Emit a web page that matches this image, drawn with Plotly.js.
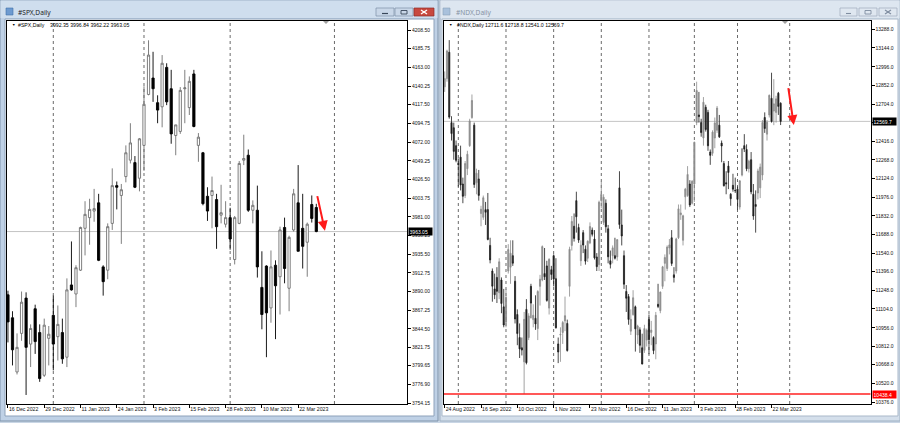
<!DOCTYPE html>
<html><head><meta charset="utf-8">
<script src="https://cdn.plot.ly/plotly-3.0.1.min.js"></script>
<style>html,body{margin:0;padding:0;background:#c6d5e6;}#chart{width:900px;height:423px;}</style>
</head><body><div id="chart"></div>
<script>
// ---------------- DATA ----------------
// #SPX daily, 16 Dec 2022 .. 28 Mar 2023
const spxOpen  = [3886,3858,3792,3839,3882,3826,3869,3840,3788,3833, 3861,3835,3840,3810,3898,3887,3916,3967,3980,3988,
                  3998,3920,3916,3973,4019,4007,4030,4050,4047,4028, 4068,4130,4150,4120,4115,4163,4137,4080,4085,4137,
                  4114,4155,4068,4059,4006,4007,4002,3983,3972,3980, 3929,3973,4050,4056,3989,3989,3895,3921,3870,3922,
                  3908,3968,3894,3965,3998,3967,3950,3996,3992.35];
const spxHigh  = [3891,3866,3839,3890,3889,3850,3874,3850,3857,3848, 3885,3873,3857,3906,3951,3922,3969,4000,4003,4015,
                  4009,3922,3973,4040,4024,4021,4068,4095,4055,4077, 4140,4196,4182,4129,4178,4168,4160,4093,4139,4160,
                  4152,4160,4083,4060,4017,4030,4009,4020,4000,3992, 3982,4049,4081,4063,4001,4019,3939,3922,3940,3928,
                  3969,3980,3958,4015,4044,4009,3974,4007,3996.84];
const spxLow   = [3828,3800,3789,3830,3764,3798,3814,3780,3786,3800, 3794,3806,3802,3798,3891,3871,3915,3934,3947,3975,
                  3927,3885,3905,3965,3990,3948,4023,4046,4016,4012, 4037,4129,4121,4095,4090,4117,4070,4056,4082,4095,
                  4105,4090,4048,3995,3976,3967,3942,3973,3968,3941, 3923,3972,4044,3987,3973,3907,3844,3810,3852,3832,
                  3862,3900,3866,3963,3939,3918,3908,3974,3962.22];
const spxClose = [3853,3819,3822,3877,3822,3845,3829,3784,3849,3838, 3826,3850,3808,3892,3892,3919,3968,3984,3990,3991,
                  3928,3902,3969,4019,4017,4014,4059,4071,4017,4076, 4118,4178,4137,4111,4168,4121,4082,4093,4135,4138,
                  4146,4091,4078,3997,3988,4013,3969,3986,3980,3954, 3980,4046,4052,3989,3995,3920,3862,3864,3920,3897,
                  3965,3918,3956,4009,3939,3945,3972,3979,3963.05];
const spxTickDates  = ['2022-12-16','2022-12-29','2023-01-11','2023-01-24','2023-02-03','2023-02-15','2023-02-28','2023-03-10','2023-03-22'];
const spxTickLabels = ['16 Dec 2022','29 Dec 2022','11 Jan 2023','24 Jan 2023','3 Feb 2023','15 Feb 2023','28 Feb 2023','10 Mar 2023','22 Mar 2023'];
const spxPriceTicks = [4208.50,4185.75,4163.00,4140.25,4117.50,4094.75,4072.00,4049.25,4026.50,4003.75,3981.00,3958.25,
                       3935.50,3912.75,3890.00,3867.25,3844.50,3821.75,3799.65,3776.90,3754.15];

// #NDX daily, 24 Aug 2022 .. 28 Mar 2023
const ndxOpen = [12840,12904,13110,12560,12520,12380,12240,12290,12080,11990, 12200,12380,12600,12540,12090,12120,11850,11820,11880,11880,
  11600,11400,11260,11350,11230,11330,11120,11000,11400,11430, 11520,11320,11060,10880,10800,10690,11100,10880,11280,11020,
  11030,10950,11280,11330,11380,11440,11110,11410,11520,11340, 10830,10900,10920,11010,10990,11280,11600,11750,11950,11740,
  11480,11700,11570,11500,11620,11720,11650,11510,11450,11950, 11780,11930,11730,11480,11520,11520,11510,12050,11760,11520,
  11240,11200,10930,11060,11120,10900,10940,10800,10780,10860, 11020,10920,10880,10830,11140,11090,11280,11460,11420,11580,
  11660,11370,11400,11660,11840,11640,11980,11990,12080,11930, 12080,12560,12620,12560,12440,12680,12640,12330,12320,12440,
  12500,12540,12400,12240,12090,12220,12000,12070,12030,12040, 11900,12150,12380,12350,12200,12270,12000,11920,12010,12050,
  12150,12600,12470,12620,12750,12650,12640,12790,12711.6];
const ndxHigh = [12960,13130,13205,12610,12560,12420,12280,12380,12130,12260, 12340,12590,12780,12560,12200,12190,11910,11990,11940,12010,
  11660,11420,11380,11430,11500,11350,11260,11260,11610,11640, 11640,11360,11100,10990,10880,11080,11180,11070,11300,11140,
  11210,11250,11370,11600,11580,11480,11500,11440,11530,11500, 10880,10960,11010,11200,11020,11590,11830,11850,12020,11770,
  11640,11720,11600,11640,11780,11740,11720,11540,11950,12100, 12000,11960,11760,11560,11600,11660,11650,12180,11880,11560,
  11290,11220,11100,11250,11130,10980,10960,10910,10980,10950, 11060,11010,10890,11080,11300,11240,11440,11530,11600,11650,
  11720,11430,11660,11920,11920,11840,12050,12220,12110,12110, 12410,12880,12800,12590,12760,12700,12660,12350,12500,12600,
  12690,12620,12420,12260,12180,12260,12010,12160,12130,12060, 12110,12360,12470,12390,12270,12330,12080,12030,12200,12240,
  12580,12640,12580,12780,12950,12900,12770,12800,12718.8];
const ndxLow = [12800,12880,12590,12420,12270,12250,12060,12030,11930,11970, 12150,12370,12590,12050,12000,11950,11750,11800,11760,11640,
  11460,11160,11180,11150,11180,11070,10960,10960,11380,11300, 11440,10990,10820,10720,10740,10438.4,10670,10860,11030,10960,
  10940,10860,11130,11320,11330,11160,11060,11330,11280,10950, 10680,10690,10830,10930,10770,11200,11560,11630,11700,11620,
  11440,11540,11450,11470,11610,11670,11490,11400,11400,11890, 11760,11700,11460,11420,11460,11490,11480,11730,11600,11260,
  11080,10980,10900,11050,10770,10830,10760,10670,10760,10810, 10750,10820,10750,10710,11110,11070,11260,11320,11400,11530,
  11440,11310,11380,11650,11800,11600,11880,11980,11900,11920, 11940,12540,12560,12450,12380,12490,12340,12230,12300,12360,
  12480,12440,12250,12060,12000,12040,11910,12020,12010,11880, 11880,12140,12330,12180,12170,12000,11800,11700,11960,11970,
  12110,12480,12420,12600,12560,12540,12560,12620,12541.0];
const ndxClose = [12904,13120,12603,12474,12335,12265,12233,12073,11984,12240, 12313,12573,12733,12076,12165,11991,11883,11973,11859,11647,
  11487,11281,11214,11241,11472,11146,10978,11194,11568,11539, 11461,11025,10911,10791,10782,11022,10683,11049,11149,11054,
  10986,11240,11336,11591,11355,11170,11491,11373,11337,10956, 10767,10905,10998,11051,10778,11570,11788,11655,11824,11642,
  11602,11603,11477,11633,11748,11687,11503,11434,11938,11999, 11977,11746,11511,11452,11581,11500,11645,11763,11674,11297,
  11187,11021,11022,11191,10948,10970,10819,10673,10950,10937, 10863,10938,10778,11054,11123,11235,11433,11506,11587,11604,
  11459,11350,11651,11886,11854,11832,12040,12155,11916,12102, 12407,12811,12607,12482,12719,12506,12379,12304,12486,12558,
  12674,12449,12377,12067,12082,12170,11965,12040,12028,11960, 12105,12355,12353,12199,12259,12019,11830,11905,12182,12212,
  12561,12514,12563,12773,12569,12707,12746,12687,12569.7];
const ndxTickDates  = ['2022-08-24','2022-09-16','2022-10-10','2022-11-01','2022-11-23','2022-12-16','2023-01-11','2023-02-03','2023-02-28','2023-03-22'];
const ndxTickLabels = ['24 Aug 2022','16 Sep 2022','10 Oct 2022','1 Nov 2022','23 Nov 2022','16 Dec 2022','11 Jan 2023','3 Feb 2023','28 Feb 2023','22 Mar 2023'];
// 12560.0 sits under the last-price box in the reference, so only its tick mark shows
const ndxPriceTicks = [13288,13144,12996,12852,12704,12560,12416,12268,12124,11976,11832,11688,11540,11396,11248,11104,10956,10812,10668,10520,10376];
const ndxHiddenTick = 12560;

const marketHolidays = ['2022-09-05','2022-11-24','2022-12-26','2023-01-02','2023-01-16','2023-02-20','2023-04-07'];

// ---------------- HELPERS ----------------
function tradingDays(start, endExclusive){
  const out=[]; let d=new Date(start+'T00:00:00Z'); const e=new Date(endExclusive+'T00:00:00Z');
  while(d<e){const wd=d.getUTCDay(); const s=d.toISOString().slice(0,10);
    if(wd!==0&&wd!==6&&!marketHolidays.includes(s)) out.push(s); d=new Date(d.getTime()+86400000);}
  return out;
}
const spxDatesAll = tradingDays('2022-12-16','2023-04-30');
const ndxDatesAll = tradingDays('2022-08-24','2023-04-30');
const spxX = spxClose.map((_,i)=>i);
const ndxX = ndxClose.map((_,i)=>i);
function monthStarts(dates){const r=[];for(let i=1;i<dates.length;i++){if(dates[i].slice(0,7)!==dates[i-1].slice(0,7))r.push(i);}return r;}

const W=900,H=423;
const X=p=>p/W, Y=p=>1-p/H;
const FONT='Liberation Sans, Arial, sans-serif';
function rect(x0,y0,x1,y1,fill,line,lw){return {type:'rect',xref:'paper',yref:'paper',x0:X(x0),x1:X(x1),y0:Y(y1),y1:Y(y0),fillcolor:fill,line:{color:line||fill,width:lw||0},layer:'below'};}
function seg(x0,y0,x1,y1,color,w){return {type:'line',xref:'paper',yref:'paper',x0:X(x0),x1:X(x1),y0:Y(y0),y1:Y(y1),line:{color:color,width:w||1},layer:'above'};}
function txt(x,y,t,size,color,anchor,fam){return {xref:'paper',yref:'paper',x:X(x),y:Y(y),text:t,showarrow:false,xanchor:anchor||'left',yanchor:'middle',font:{family:fam||FONT,size:size,color:color||'#000'}};}

// plot areas (pixels)
const P1={l:7,r:407,t:21,b:404};
const P2={l:444,r:870.5,t:21,b:404};

function xAxis(p,range,tickDates,tickLabels,dates,anchor){
  return {domain:[X(p.l),X(p.r)],range:range,anchor:anchor,showgrid:false,zeroline:false,
    showline:true,mirror:true,linecolor:'#000',linewidth:1,ticks:'outside',ticklen:3,tickwidth:1,tickcolor:'#000',
    tickmode:'array',tickvals:tickDates.map(d=>dates.indexOf(d)),ticktext:tickLabels,ticklabelposition:'outside right',
    tickangle:0,automargin:false,ticklabelstandoff:0,
    tickfont:{family:FONT,size:5.2,color:'#111'},rangeslider:{visible:false},fixedrange:true};
}
function yAxis(p,range,ticks,dec,anchor,hidden){
  return {domain:[Y(p.b),Y(p.t)],range:range,anchor:anchor,side:'right',showgrid:false,zeroline:false,
    showline:true,mirror:true,linecolor:'#000',linewidth:1,ticks:'outside',ticklen:3,tickwidth:1,tickcolor:'#000',
    tickmode:'array',tickvals:ticks,ticktext:ticks.map(v=>v===hidden?'':v.toFixed(dec)),automargin:false,
    tickfont:{family:FONT,size:5,color:'#111'},fixedrange:true};
}

const traces=[
 {type:'candlestick',x:spxX,open:spxOpen,high:spxHigh,low:spxLow,close:spxClose,xaxis:'x',yaxis:'y',whiskerwidth:0,hoverinfo:'skip',
  increasing:{line:{color:'#707070',width:0.9},fillcolor:'#ffffff'},decreasing:{line:{color:'#000000',width:0.9},fillcolor:'#000000'}},
 {type:'candlestick',x:ndxX,open:ndxOpen,high:ndxHigh,low:ndxLow,close:ndxClose,xaxis:'x2',yaxis:'y2',whiskerwidth:0,hoverinfo:'skip',
  increasing:{line:{color:'#8c8c8c',width:0.8},fillcolor:'#8c8c8c'},decreasing:{line:{color:'#1c1c1c',width:0.8},fillcolor:'#1c1c1c'}}
];

const spxLast=spxClose.length-1, ndxLast=ndxClose.length-1;
const ndxSupport=Math.min(...ndxLow);

const shapes=[
  rect(0,0,900,423,'#c9d6e5'),
  rect(0,0,438,421,'#bfd1e6','#7f93ab',1),
  rect(440,0,900,421,'#d4dfeb','#9fb0c3',1),
  rect(0.5,0.5,437.5,18,'#cfdeee'),
  rect(440.5,0.5,899.5,18,'#dde6f0'),
  rect(5,19,434,416,'#ffffff','#8ea2ba',1),
  rect(442,19,898,416,'#ffffff','#a9b8c9',1),
  rect(6,8,13,15,'#6d9ad0','#3f6ea8',0.6),
  rect(443,8,450,15,'#a9c1dc','#8aa1bb',0.6),
  rect(376,8,394,16,'#c9d7e8','#7d8fa6',0.7),
  rect(395,8,413,16,'#c9d7e8','#7d8fa6',0.7),
  rect(414,8,434,16,'#c8493f','#8f2c25',0.7),
  seg(382,13.5,388,13.5,'#39475a',1.2),
  rect(401,10.5,407,14,'rgba(0,0,0,0)','#39475a',0.9),
  seg(421,10,427,14,'#ffffff',1.3), seg(421,14,427,10,'#ffffff',1.3),
  rect(840,8,857,16,'#dfe7f0','#9eabbb',0.7),
  rect(859,8,877,16,'#dfe7f0','#9eabbb',0.7),
  rect(879,8,897,16,'#dfe7f0','#9eabbb',0.7),
  seg(846,13.5,851,13.5,'#7f8da0',1.1),
  rect(865,10.5,871,14,'rgba(0,0,0,0)','#7f8da0',0.9),
  seg(885,10,891,14,'#7f8da0',1.1), seg(885,14,891,10,'#7f8da0',1.1),
];
monthStarts(spxDatesAll).forEach(i=>shapes.push({type:'line',xref:'x',yref:'paper',x0:i,x1:i,y0:Y(P1.b),y1:Y(P1.t),line:{color:'#444',width:0.8,dash:'dot'},layer:'below'}));
monthStarts(ndxDatesAll).forEach(i=>shapes.push({type:'line',xref:'x2',yref:'paper',x0:i,x1:i,y0:Y(P2.b),y1:Y(P2.t),line:{color:'#444',width:0.8,dash:'dot'},layer:'below'}));
shapes.push({type:'line',xref:'paper',yref:'y',x0:X(P1.l),x1:X(P1.r),y0:spxClose[spxLast],y1:spxClose[spxLast],line:{color:'#c4c4c4',width:1},layer:'below'});
shapes.push({type:'line',xref:'paper',yref:'y2',x0:X(P2.l),x1:X(P2.r),y0:ndxClose[ndxLast],y1:ndxClose[ndxLast],line:{color:'#c4c4c4',width:1},layer:'below'});
shapes.push({type:'line',xref:'paper',yref:'y2',x0:X(P2.l),x1:X(P2.r),y0:ndxSupport,y1:ndxSupport,line:{color:'#ff2020',width:1.5},layer:'above'});
shapes.push({type:'path',xref:'paper',yref:'paper',path:`M ${X(323)} ${Y(21)} L ${X(329)} ${Y(21)} L ${X(326)} ${Y(24)} Z`,fillcolor:'#a0a0a0',line:{width:0}});
shapes.push({type:'path',xref:'paper',yref:'paper',path:`M ${X(782)} ${Y(21)} L ${X(788)} ${Y(21)} L ${X(785)} ${Y(24)} Z`,fillcolor:'#a0a0a0',line:{width:0}});

const f2=v=>v.toFixed(2), f1=v=>v.toFixed(1);
const annotations=[
  txt(16,12,'#SPX,Daily',6.6,'#1b1b1b','left','Noto Sans, DejaVu Sans, sans-serif'),
  txt(454,12,'#NDX,Daily',6.6,'#8592a3','left','Noto Sans, DejaVu Sans, sans-serif'),
  txt(9.5,25.3,'▼',3.5,'#000'),
  txt(16,25.3,'#SPX,Daily',5.2,'#000'),
  txt(48.3,25.3,[spxOpen,spxHigh,spxLow,spxClose].map(a=>f2(a[spxLast])).join(' '),5.2,'#000'),
  txt(446.5,25.3,'▼',3.5,'#000'),
  txt(455,25.3,'#NDX,Daily',5.2,'#000'),
  txt(483.3,25.3,[ndxOpen,ndxHigh,ndxLow,ndxClose].map(a=>f1(a[ndxLast])).join(' '),5.2,'#000'),
  {xref:'paper',yref:'y',x:X(408),y:spxClose[spxLast],text:f2(spxClose[spxLast]),showarrow:false,xanchor:'left',yanchor:'middle',
   bgcolor:'#000',font:{family:FONT,size:5,color:'#fff'},borderpad:0.6,width:22,align:'left'},
  {xref:'paper',yref:'y2',x:X(871.5),y:ndxClose[ndxLast],text:f1(ndxClose[ndxLast]),showarrow:false,xanchor:'left',yanchor:'middle',
   bgcolor:'#000',font:{family:FONT,size:5,color:'#fff'},borderpad:0.6,width:22,align:'left'},
  {xref:'paper',yref:'y2',x:X(871.5),y:ndxSupport,text:f1(ndxSupport),showarrow:false,xanchor:'left',yanchor:'middle',
   bgcolor:'#ff0000',font:{family:FONT,size:5,color:'#fff'},borderpad:0.6,width:22,align:'left'},
  {xref:'x',yref:'y',axref:'x',ayref:'y',x:69.9,y:3964,ax:68.15,ay:4008,text:'',showarrow:true,arrowcolor:'#ff1a1a',arrowwidth:2,arrowhead:2,arrowsize:1},
  {xref:'x2',yref:'y2',axref:'x2',ayref:'y2',x:153.8,y:12541,ax:151.3,ay:12841,text:'',showarrow:true,arrowcolor:'#ff1a1a',arrowwidth:2,arrowhead:2,arrowsize:1}
];

const layout={width:W,height:H,margin:{l:0,r:0,t:0,b:0,pad:0},paper_bgcolor:'#c9d6e5',plot_bgcolor:'rgba(0,0,0,0)',showlegend:false,
  xaxis:xAxis(P1,[-0.21,88.0],spxTickDates,spxTickLabels,spxDatesAll,'y'),
  yaxis:yAxis(P1,[3753.0,4219.5],spxPriceTicks,2,'x',null),
  xaxis2:xAxis(P2,[-0.31,187.6],ndxTickDates,ndxTickLabels,ndxDatesAll,'y2'),
  yaxis2:yAxis(P2,[10360.4,13354.4],ndxPriceTicks,1,'x2',ndxHiddenTick),
  shapes:shapes,annotations:annotations};

Plotly.newPlot('chart',traces,layout,{staticPlot:true,displayModeBar:false});
</script></body></html>
